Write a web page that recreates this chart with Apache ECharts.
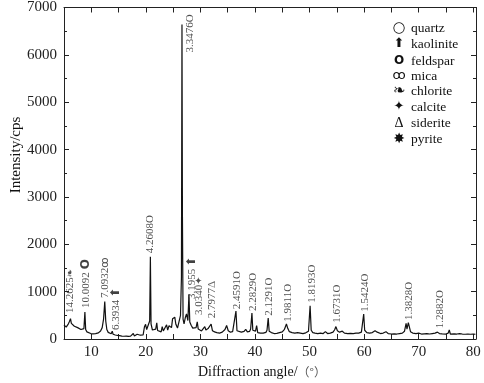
<!DOCTYPE html>
<html>
<head>
<meta charset="utf-8">
<script src="https://cdn.jsdelivr.net/npm/echarts@6/dist/echarts.min.js"></script>
<style>html,body{margin:0;padding:0;background:#fff}#c{width:484px;height:383px}</style>
</head>
<body>
<div id="c"></div>
<script>
// XRD pattern: [2θ (°), intensity (cps)]
const pattern = [
[5.0,300],[5.2,260],[5.4,250],[5.6,270],[5.8,320],[6.0,370],[6.19,430],[6.35,330],[6.6,290],[6.9,270],[7.2,250],[7.5,240],[7.8,215],[8.1,200],[8.4,185],[8.65,220],[8.83,570],[8.97,200],[9.2,150],[9.5,130],[9.9,115],[10.3,110],[10.8,115],[11.3,130],[11.7,170],[12.0,240],[12.25,420],[12.47,790],[12.65,380],[12.85,200],[13.1,140],[13.4,115],[13.65,110],[13.84,165],[14.0,100],[14.4,85],[14.8,75],[15.2,70],[15.6,62],[16.0,58],[16.4,62],[16.8,55],[17.2,60],[17.5,75],[17.7,115],[17.9,65],[18.2,85],[18.4,100],[18.6,65],[19.0,80],[19.3,120],[19.5,85],[19.75,260],[19.95,310],[20.15,200],[20.45,230],[20.7,380],[20.83,1735],[20.95,320],[21.2,190],[21.5,170],[21.8,210],[22.0,340],[22.15,180],[22.5,170],[22.8,150],[23.0,260],[23.2,170],[23.5,210],[23.8,300],[24.0,190],[24.25,280],[24.5,310],[24.7,240],[24.9,430],[25.1,390],[25.3,460],[25.5,310],[25.8,230],[26.1,260],[26.35,500],[26.52,1300],[26.62,6640],[26.7,2650],[26.82,420],[27.0,320],[27.25,460],[27.45,530],[27.7,390],[27.9,942],[28.05,360],[28.3,290],[28.6,230],[28.9,210],[29.2,240],[29.42,360],[29.6,210],[29.9,190],[30.2,170],[30.5,210],[30.8,260],[31.0,190],[31.4,220],[31.7,190],[31.96,316],[32.2,175],[32.6,150],[33.0,135],[33.5,125],[34.0,145],[34.5,200],[34.8,285],[35.1,175],[35.5,145],[35.9,155],[36.2,170],[36.51,590],[36.7,175],[37.0,155],[37.5,145],[38.0,160],[38.3,205],[38.6,150],[39.0,160],[39.2,210],[39.44,550],[39.6,185],[39.9,145],[40.1,165],[40.3,285],[40.5,135],[41.0,125],[41.5,125],[42.0,140],[42.2,185],[42.42,440],[42.6,165],[43.0,135],[43.5,115],[44.0,120],[44.5,135],[45.0,150],[45.4,205],[45.76,316],[46.0,225],[46.3,155],[46.8,135],[47.3,125],[47.8,135],[48.3,125],[48.8,115],[49.3,130],[49.8,165],[50.1,700],[50.3,185],[50.6,135],[51.0,125],[51.5,115],[52.0,125],[52.5,115],[52.9,155],[53.3,115],[53.8,125],[54.3,145],[54.6,195],[54.83,262],[55.1,175],[55.5,145],[56.0,165],[56.4,125],[57.0,115],[57.5,120],[58.0,115],[58.5,125],[59.0,125],[59.5,145],[59.92,527],[60.1,185],[60.5,135],[61.0,125],[61.5,135],[62.0,175],[62.4,145],[63.0,115],[63.5,125],[64.0,155],[64.4,115],[65.0,105],[65.5,110],[66.0,105],[66.5,115],[67.0,125],[67.4,165],[67.69,330],[67.85,210],[68.1,345],[68.3,305],[68.5,155],[68.9,125],[69.5,115],[70.0,125],[70.5,105],[71.0,110],[71.5,115],[72.0,105],[72.5,115],[73.0,125],[73.43,145],[73.8,115],[74.3,110],[75.0,105],[75.4,125],[75.6,190],[75.8,105],[76.5,110],[77.0,105],[77.5,115],[78.0,105],[78.5,100],[79.0,105],[79.5,100],[80.0,105],[80.4,100]
];

// peak annotations (d-spacing, mineral key, anchor 2θ, anchor intensity)
const peakText   = ['14.2625','10.0092','7.0932','6.3934','4.2608O','3.3476O','3.1955','3.0340','2.7977','2.4591O','2.2829O','2.1291O','1.9811O','1.8193O','1.6731O','1.5424O','1.3828O','1.2882O'];
const peakMineral= ['chlorite','feldspar','mica','kaolinite','','','kaolinite','calcite','siderite','','','','','','','','',''];
const peakAngle  = [6.2, 9.1, 12.6, 14.5, 20.85, 28.1, 28.5, 29.8, 32.05, 36.65, 39.6, 42.6, 46.1, 50.4, 55.1, 60.2, 68.3, 73.9];
const peakBase   = [548, 654, 864, 190, 1813, 6051, 843, 506, 436, 626, 590, 491, 365, 765, 344, 576, 400, 225];

const legendNames = ['quartz','kaolinite','feldspar','mica','chlorite','calcite','siderite','pyrite'];
const legendSymbols = ['○','⬆','O','ꝏ','❧','✦','Δ','✸'];

const xTicks = [10,20,30,40,50,60,70,80];

const SERIF = '"Liberation Serif"';
const SYM = '"DejaVu Sans"';
const symbolStyle = {
  chlorite: {key:'s', ch:'❧'},
  feldspar: {key:'ring', ch:'O'},
  mica: {key:'s', ch:'ꝏ'},
  kaolinite: {key:'arr', ch:'⬆'},
  calcite: {key:'s', ch:'✦'},
  siderite: {key:'tt', ch:'Δ'}
};

const labelData = peakText.map((t,i)=>({value:[peakAngle[i], peakBase[i]], txt:t, min:peakMineral[i]}));

const chart = echarts.init(document.getElementById('c'), null, {renderer:'canvas'});

const axisCommon = {
  axisLine:{show:true, onZero:false, lineStyle:{color:'#222', width:1}},
  splitLine:{show:false}
};

const legendGraphics = [];
const legendY = [28, 44, 61, 76, 91, 107, 123, 139];
legendNames.forEach((n,i)=>{
  const sym = legendSymbols[i];
  let st = {text:sym, x:399, y:legendY[i], align:'center', verticalAlign:'middle', fill:'#111', fontSize:13, fontFamily:SYM};
  if (n==='feldspar') { st.fontWeight='bold'; st.fontSize=12; }
  if (n==='kaolinite') { st.fontSize=13; }
  if (n==='quartz') { st.fontSize=15; }
  if (n==='chlorite') { st.fontSize=15; }
  if (n==='pyrite') { st.fontSize=14; }
  if (n==='siderite') { st.fontFamily=SERIF; st.fontSize=14; }
  legendGraphics.push({type:'text', style:st});
  legendGraphics.push({type:'text', style:{text:n, x:411, y:legendY[i], align:'left', verticalAlign:'middle', fill:'#111', fontSize:13.5, fontFamily:SERIF}});
});

chart.setOption({
  animation:false,
  backgroundColor:'#fff',
  grid:{left:64, right:8, top:7, bottom:44, containLabel:false},
  xAxis:[
    Object.assign({type:'value', min:5, max:80.5, interval:5, position:'bottom',
      axisTick:{show:true, inside:true, length:5, lineStyle:{color:'#222'}},
      axisLabel:{show:true, margin:6, color:'#222', fontSize:15, fontFamily:SERIF,
        formatter:v=> xTicks.indexOf(v)>=0 ? String(v) : ''}
    }, axisCommon),
    Object.assign({type:'value', min:5, max:80.5, interval:5, position:'top',
      axisTick:{show:true, inside:true, length:5, lineStyle:{color:'#222'}},
      axisLabel:{show:false}
    }, axisCommon)
  ],
  yAxis:[
    Object.assign({type:'value', min:0, max:7000, interval:1000, position:'left',
      axisTick:{show:true, inside:true, length:5, lineStyle:{color:'#222'}},
      minorTick:{show:true, splitNumber:2, length:3, lineStyle:{color:'#222'}},
      minorSplitLine:{show:false},
      axisLabel:{show:true, margin:7, color:'#222', fontSize:15, fontFamily:SERIF, formatter:v=>String(v)}
    }, axisCommon),
    Object.assign({type:'value', min:0, max:7000, interval:1000, position:'right',
      axisTick:{show:true, inside:true, length:5, lineStyle:{color:'#222'}},
      minorTick:{show:true, splitNumber:2, length:3, lineStyle:{color:'#222'}},
      minorSplitLine:{show:false},
      axisLabel:{show:false}
    }, axisCommon)
  ],
  series:[
    {type:'line', data:pattern, xAxisIndex:0, yAxisIndex:0, symbol:'none', showSymbol:false,
     lineStyle:{color:'#111', width:1.2}, silent:true, z:3},
    {type:'scatter', data:labelData, xAxisIndex:0, yAxisIndex:0, symbolSize:0, silent:true, z:4,
     label:{show:true, position:[0,0], rotate:90, align:'left', verticalAlign:'middle', distance:0,
       formatter:p=>{
         const d=p.data; let s='{t|'+d.txt+'}';
         if (d.min && symbolStyle[d.min]) { const m=symbolStyle[d.min]; s+='{'+m.key+'|'+m.ch+'}'; }
         return s;
       },
       rich:{
         t:{fontFamily:SERIF, fontSize:11, color:'#222'},
         tt:{fontFamily:SERIF, fontSize:11, color:'#444'},
         s:{fontFamily:SYM, fontSize:10, color:'#222'},
         arr:{fontFamily:SYM, fontSize:12, color:'#111', padding:[0,0,0,2]},
         ring:{fontFamily:SYM, fontSize:12, fontWeight:'bold', color:'#111', padding:[0,0,0,3]}
       }
     }}
  ],
  graphic:[
    {type:'text', rotation:Math.PI/2, x:16, y:155, style:{text:'Intensity/cps', align:'center', verticalAlign:'middle', fill:'#111', fontSize:15, fontFamily:SERIF}},
    {type:'text', x:262, y:372, style:{text:'{a|Diffraction angle/}{b|（°）}', align:'center', verticalAlign:'middle',
      rich:{a:{fill:'#111', fontSize:14, fontFamily:SERIF}, b:{fill:'#555', fontSize:12, fontFamily:'"Noto Sans CJK SC"'}}}}
  ].concat(legendGraphics)
});
</script>
</body>
</html>
